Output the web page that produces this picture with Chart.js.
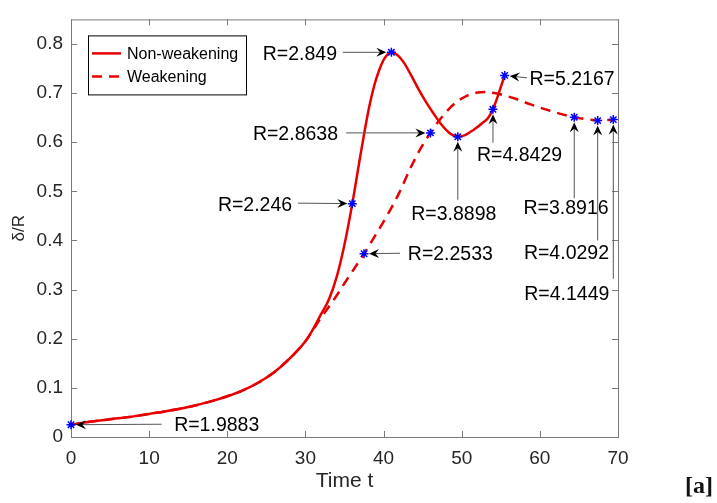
<!DOCTYPE html>
<html>
<head>
<meta charset="utf-8">
<script src="https://cdn.jsdelivr.net/npm/chart.js@4.4.1/dist/chart.umd.min.js"></script>
<style>
  html, body { margin: 0; padding: 0; background: #fff; }
</style>
</head>
<body>
<canvas id="lineChart" width="717" height="503"></canvas>
<script>
// non-weakening curve (solid)
var solidT = [0, 2, 5, 8, 10, 12, 15, 18, 20, 22, 24, 26, 28, 30, 31, 32, 33, 34, 35, 36, 37, 37.6, 38.2, 38.8, 39.4, 40.1, 41, 41.8, 42.6, 43.5, 44.5, 45.5, 46.5, 47.5, 48.5, 49.5, 50.5, 51.5, 52.5, 53.4, 54, 55.5];
var solidY = [0.025, 0.030, 0.036, 0.042, 0.047, 0.052, 0.061, 0.073, 0.083, 0.095, 0.111, 0.132, 0.160, 0.195, 0.220, 0.250, 0.280, 0.326, 0.392, 0.475, 0.570, 0.625, 0.675, 0.715, 0.745, 0.770, 0.783, 0.777, 0.762, 0.737, 0.707, 0.680, 0.656, 0.634, 0.618, 0.611, 0.615, 0.625, 0.637, 0.650, 0.667, 0.736];

// weakening curve (dashed)
var dashT = [0, 2, 5, 8, 10, 12, 15, 18, 20, 22, 24, 26, 28, 30, 31, 32, 33, 34, 35, 36, 37.5, 39, 40.5, 42, 43.4, 44.7, 46, 47.3, 48.5, 49.6, 50.7, 52, 53, 54.5, 56.6, 58.8, 61.3, 64.4, 66.5, 67.4, 69.4];
var dashY = [0.025, 0.030, 0.036, 0.042, 0.047, 0.052, 0.061, 0.073, 0.083, 0.095, 0.111, 0.132, 0.160, 0.195, 0.218, 0.243, 0.265, 0.288, 0.313, 0.337, 0.373, 0.412, 0.452, 0.497, 0.546, 0.586, 0.619, 0.648, 0.670, 0.685, 0.695, 0.701, 0.702, 0.699, 0.690, 0.677, 0.664, 0.651, 0.646, 0.644, 0.646];

// marked points and their R values
var markT = [0, 36, 41, 49.5, 54, 55.5, 37.5, 46, 64.4, 67.4, 69.4];
var markY = [0.025, 0.475, 0.783, 0.611, 0.667, 0.736, 0.373, 0.619, 0.651, 0.644, 0.646];
var markLabels = ['R=1.9883', 'R=2.246', 'R=2.849', 'R=3.8898', 'R=4.8429', 'R=5.2167', 'R=2.2533', 'R=2.8638', 'R=3.8916', 'R=4.0292', 'R=4.1449'];

var xTicks = [0, 10, 20, 30, 40, 50, 60, 70];
var yTicks = [0, 0.1, 0.2, 0.3, 0.4, 0.5, 0.6, 0.7, 0.8];

// arrow layout: marker index, arrow tail and text anchor (data units)
var notes = [
  { m: 0, tail: [11.6, 0.026], text: [13.2, 0.0264], align: 'left' },
  { m: 1, tail: [29.05, 0.476], text: [28.3, 0.4734], align: 'right' },
  { m: 2, tail: [34.8, 0.783], text: [34.04, 0.782], align: 'right' },
  { m: 3, tail: [49.5, 0.483], text: [48.99, 0.455], align: 'center' },
  { m: 4, tail: [54, 0.599], text: [57.4, 0.577], align: 'center' },
  { m: 5, tail: [58.36, 0.731], text: [58.68, 0.7306], align: 'left' },
  { m: 6, tail: [42.1, 0.374], text: [43.1, 0.374], align: 'left' },
  { m: 7, tail: [35.2, 0.619], text: [34.17, 0.618], align: 'right' },
  { m: 8, tail: [64.4, 0.486], text: [68.8, 0.4675], align: 'right' },
  { m: 9, tail: [67.4, 0.40], text: [68.85, 0.376], align: 'right' },
  { m: 10, tail: [69.4, 0.322], text: [68.9, 0.2927], align: 'right' }
];

function pts(xs, ys) {
  return xs.map(function (x, i) { return { x: x, y: ys[i] }; });
}

var FONT = 'Liberation Sans, Arial, Helvetica, sans-serif';

function drawArrow(ctx, x1, y1, x2, y2) {
  var ang = Math.atan2(y2 - y1, x2 - x1), c = Math.cos(ang), s = Math.sin(ang);
  var L = 10, W = 4.5;
  var bx = x2 - L * c, by = y2 - L * s;
  var nx = x2 - 0.65 * L * c, ny = y2 - 0.65 * L * s;
  ctx.beginPath();
  ctx.moveTo(x1, y1);
  ctx.lineTo(nx, ny);
  ctx.stroke();
  ctx.beginPath();
  ctx.moveTo(x2, y2);
  ctx.lineTo(bx - W * s, by + W * c);
  ctx.lineTo(nx, ny);
  ctx.lineTo(bx + W * s, by - W * c);
  ctx.closePath();
  ctx.fill();
}

var matlabLook = {
  id: 'matlabLook',
  beforeDatasetsDraw: function (chart) {
    var ctx = chart.ctx, a = chart.chartArea, sx = chart.scales.x, sy = chart.scales.y;
    ctx.save();
    ctx.strokeStyle = '#7a7a7a';
    ctx.lineWidth = 1;
    ctx.strokeRect(a.left + 0.5, a.top + 0.5, a.right - a.left, a.bottom - a.top);
    ctx.beginPath();
    sx.ticks.forEach(function (t) {
      var x = Math.round(sx.getPixelForValue(t.value)) + 0.5;
      ctx.moveTo(x, a.bottom); ctx.lineTo(x, a.bottom - 6);
      ctx.moveTo(x, a.top); ctx.lineTo(x, a.top + 6);
    });
    sy.ticks.forEach(function (t) {
      var y = Math.round(sy.getPixelForValue(t.value)) + 0.5;
      ctx.moveTo(a.left, y); ctx.lineTo(a.left + 6, y);
      ctx.moveTo(a.right, y); ctx.lineTo(a.right - 6, y);
    });
    ctx.stroke();
    ctx.restore();
  },
  afterDatasetsDraw: function (chart) {
    var ctx = chart.ctx, a = chart.chartArea, sx = chart.scales.x, sy = chart.scales.y;
    var size = 19.5;
    ctx.save();
    // arrows + labels
    ctx.strokeStyle = '#555';
    ctx.fillStyle = '#000';
    ctx.lineWidth = 1;
    ctx.font = size + 'px ' + FONT;
    ctx.textBaseline = 'alphabetic';
    notes.forEach(function (n) {
      var mx = sx.getPixelForValue(markT[n.m]), my = sy.getPixelForValue(markY[n.m]);
      var tx = sx.getPixelForValue(n.tail[0]), ty = sy.getPixelForValue(n.tail[1]);
      var d = Math.hypot(tx - mx, ty - my), gap = 5;
      var hx = mx + (tx - mx) / d * gap, hy = my + (ty - my) / d * gap;
      drawArrow(ctx, tx, ty, hx, hy);
      ctx.textAlign = n.align;
      ctx.fillText(markLabels[n.m], sx.getPixelForValue(n.text[0]), sy.getPixelForValue(n.text[1]) + 0.358 * size);
    });

    // legend box
    var lx = a.left + 17, ly = a.top + 16, lw = 158, lh = 59;
    ctx.fillStyle = '#fff';
    ctx.fillRect(lx, ly, lw, lh);
    ctx.strokeStyle = '#000';
    ctx.strokeRect(lx + 0.5, ly + 0.5, lw, lh);
    ctx.font = '16px ' + FONT;
    ctx.textAlign = 'left';
    var rows = [chart.data.datasets[1], chart.data.datasets[2]];
    rows.forEach(function (ds, i) {
      var yy = ly + 18 + i * 23;
      ctx.strokeStyle = ds.borderColor;
      ctx.lineWidth = ds.borderWidth;
      ctx.setLineDash(ds.borderDash || []);
      ctx.beginPath();
      ctx.moveTo(lx + 4, yy); ctx.lineTo(lx + 33, yy);
      ctx.stroke();
      ctx.setLineDash([]);
      ctx.fillStyle = '#000';
      ctx.fillText(ds.label, lx + 39, yy + 0.358 * 16);
    });

    // panel tag
    ctx.font = 'bold 24px Liberation Serif, DejaVu Serif, serif';
    ctx.fillStyle = '#111';
    ctx.fillText('[a]', 685, 493);
    ctx.restore();
  }
};

var ctx = document.getElementById('lineChart').getContext('2d');
var myChart = new Chart(ctx, {
  type: 'scatter',
  data: {
    datasets: [{
      label: 'points',
      data: pts(markT, markY),
      pointStyle: 'star',
      pointRadius: 4.5,
      pointBorderWidth: 1.5,
      borderColor: '#0000ff',
      backgroundColor: '#0000ff',
      showLine: false,
      clip: false,
      order: 0
    }, {
      label: 'Non-weakening',
      data: pts(solidT, solidY),
      showLine: true,
      borderColor: '#e60000',
      borderWidth: 2.5,
      pointRadius: 0,
      cubicInterpolationMode: 'monotone',
      order: 1
    }, {
      label: 'Weakening',
      data: pts(dashT, dashY),
      showLine: true,
      borderColor: '#e60000',
      borderWidth: 2.5,
      borderDash: [10, 7],
      pointRadius: 0,
      cubicInterpolationMode: 'monotone',
      order: 2
    }]
  },
  options: {
    responsive: false,
    animation: false,
    devicePixelRatio: 1,
    layout: { padding: { left: 0, top: 6, right: 99, bottom: 0 } },
    plugins: { legend: { display: false }, tooltip: { enabled: false } },
    scales: {
      x: {
        type: 'linear',
        min: 0,
        max: 70,
        grid: { display: false, drawTicks: false },
        border: { display: false },
        afterBuildTicks: function (s) { s.ticks = xTicks.map(function (v) { return { value: v }; }); },
        afterFit: function (s) { s.height = 66; },
        ticks: { autoSkip: false, maxRotation: 0, padding: 10, color: '#262626', font: { family: FONT, size: 19 } },
        title: { display: true, text: 'Time t', color: '#262626', padding: { top: 0, bottom: 9 }, font: { family: FONT, size: 21 } }
      },
      y: {
        type: 'linear',
        min: 0,
        max: 0.85,
        grid: { display: false, drawTicks: false },
        border: { display: false },
        afterBuildTicks: function (s) { s.ticks = yTicks.map(function (v) { return { value: v }; }); },
        afterFit: function (s) { s.width = 71; },
        ticks: { padding: 8, color: '#262626', font: { family: FONT, size: 19 } },
        title: { display: true, text: 'δ/R', color: '#262626', padding: { top: 9, bottom: 0 }, font: { family: FONT, size: 17 } }
      }
    }
  },
  plugins: [matlabLook]
});
</script>
</body>
</html>
